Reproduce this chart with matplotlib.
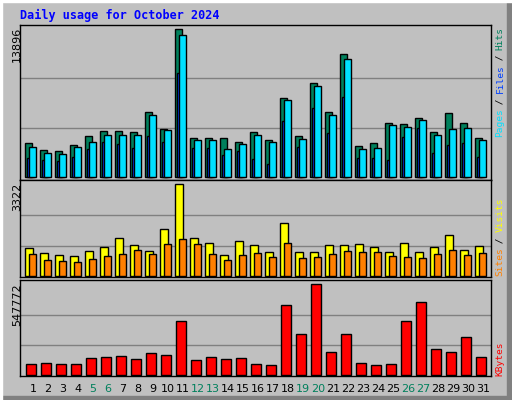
import matplotlib
matplotlib.use("Agg")
import matplotlib.pyplot as plt
import numpy as np

days = list(range(1, 32))
weekends = [5, 6, 12, 13, 19, 20, 26, 27]
hits = [3144,2484,2390,2955,3804,4276,4276,4182,6068,4464,13896,3616,3616,3616,3238,4182,
        3427,7388,3804,8803,6068,11538,2861,3144,5030,4936,5502,4182,5974,5030,3616]
pages = [2767,2201,2106,2767,3238,3899,3899,3899,5785,4370,13330,3427,3427,2578,3050,3899,
         3238,7200,3521,8520,5785,11067,2578,2672,4842,4653,5313,3899,4464,4559,3427]
files = [1729,1540,1446,1823,2578,3238,3050,2672,3804,3238,9746,2672,2672,2012,2390,1635,
         1163,5219,2767,6445,4087,7483,1729,1729,1540,3710,4559,2201,2955,3144,1823]
visits = [1011,831,758,722,903,1047,1372,1120,903,1697,3322,1372,1192,758,1264,1120,
          867,1914,867,867,1120,1120,1156,1047,867,1192,867,1047,1481,939,1084]
sites = [795,578,542,506,614,722,795,939,795,1156,1336,1156,795,578,758,831,
         686,1192,650,686,795,903,867,867,722,686,650,795,939,758,831]
kbytes = [66000,72000,66000,66000,102000,108000,114000,96000,132000,120000,325000,90000,108000,96000,102000,66000,
          60000,421000,247000,547772,138000,247000,72000,60000,66000,325000,439000,157000,138000,229000,108000]

W, H = 512, 400
fig = plt.figure(figsize=(W/100, H/100), dpi=100)
fig.patch.set_facecolor("#c0c0c0")
# bevel edges
fig.add_artist(plt.Rectangle((507/W, 0), 5/W, 1, transform=fig.transFigure, color="#808080"))
fig.add_artist(plt.Rectangle((0, 0), 1, 4/H, transform=fig.transFigure, color="#808080"))
fig.add_artist(plt.Rectangle((0, 0), 2/W, 1, transform=fig.transFigure, color="#ffffff"))
fig.add_artist(plt.Rectangle((0, 1-2/H), 1, 2/H, transform=fig.transFigure, color="#ffffff"))

L, R = 20, 490.7
def mkax(top, bot):
    ax = fig.add_axes([L/W, 1-bot/H, (R-L)/W, (bot-top)/H])
    ax.set_facecolor("#c0c0c0")
    ax.set_xlim(1 + (L-25)/15, 1 + (R-25)/15)
    ax.set_xticks([]); ax.set_yticks([])
    for s in ax.spines.values():
        s.set_color("black"); s.set_linewidth(1)
    return ax

x = np.array(days, dtype=float)
ek = dict(edgecolor="black", linewidth=1, align="edge")

# top panel
ax1 = mkax(25, 180)
m1 = max(hits); s1 = m1/147.4
ax1.set_ylim(-3.3*s1, 151.7*s1)
for f in (1/3, 2/3):
    ax1.axhline(m1*f, color="#808080", lw=1, zorder=0)
ax1.bar(x, hits, width=0.49, color="#00805c", **ek)
ax1.bar(x+0.13, files, width=0.47, color="#0040ff", **ek)
ax1.bar(x+0.29, pages, width=0.47, color="#00e0ff", **ek)

ax2 = mkax(180, 277)
m2 = max(visits); s2 = m2/92
ax2.set_ylim(-0.7*s2, 96.3*s2)
for f in (1/3, 2/3):
    ax2.axhline(m2*f, color="#808080", lw=1, zorder=0)
ax2.bar(x, visits, width=0.55, color="#ffff00", **ek)
ax2.bar(x+0.29, sites, width=0.47, color="#ff8000", **ek)

ax3 = mkax(280, 376)
m3 = max(kbytes); s3 = m3/91
ax3.set_ylim(-0.7*s3, 95.3*s3)
for f in (1/3, 2/3):
    ax3.axhline(m3*f, color="#808080", lw=1, zorder=0)
ax3.bar(x+0.09, kbytes, width=0.67, color="#ff0000", **ek)

for d in days:
    ax3.text(d+0.53, -0.135, str(d), transform=ax3.get_xaxis_transform(), ha="center", va="center",
             fontsize=8, color="#00805c" if d in weekends else "black")

def fy(py):
    return 1 - py/H

for val, ytop in ((m1, 27), (m2, 183), (m3, 283)):
    fig.text(17/W, fy(ytop), str(val), rotation=90, ha="center", va="top", fontsize=8, color="black")

fig.text(20/W, fy(15), "Daily usage for October 2024", ha="left", va="center",
         fontsize=8.5, fontweight="bold", family="DejaVu Sans Mono", color="#0000ff")

cp = 5.45
def stack(parts, ybot):
    y = ybot
    for txt, col in parts:
        fig.text(500/W, fy(y), txt, rotation=90, ha="center", va="bottom", fontsize=6.8,
                 family="DejaVu Sans Mono", color=col)
        y -= cp*len(txt)

stack([("Pages", "#00e0ff"), (" / ", "black"), ("Files", "#0040ff"), (" / ", "black"), ("Hits", "#00805c")], 137)
stack([("Sites", "#ff8000"), (" / ", "black"), ("Visits", "#ffff00")], 276)
stack([("KBytes", "#ff0000")], 376)

fig.savefig("out.png", dpi=100, facecolor=fig.get_facecolor())
